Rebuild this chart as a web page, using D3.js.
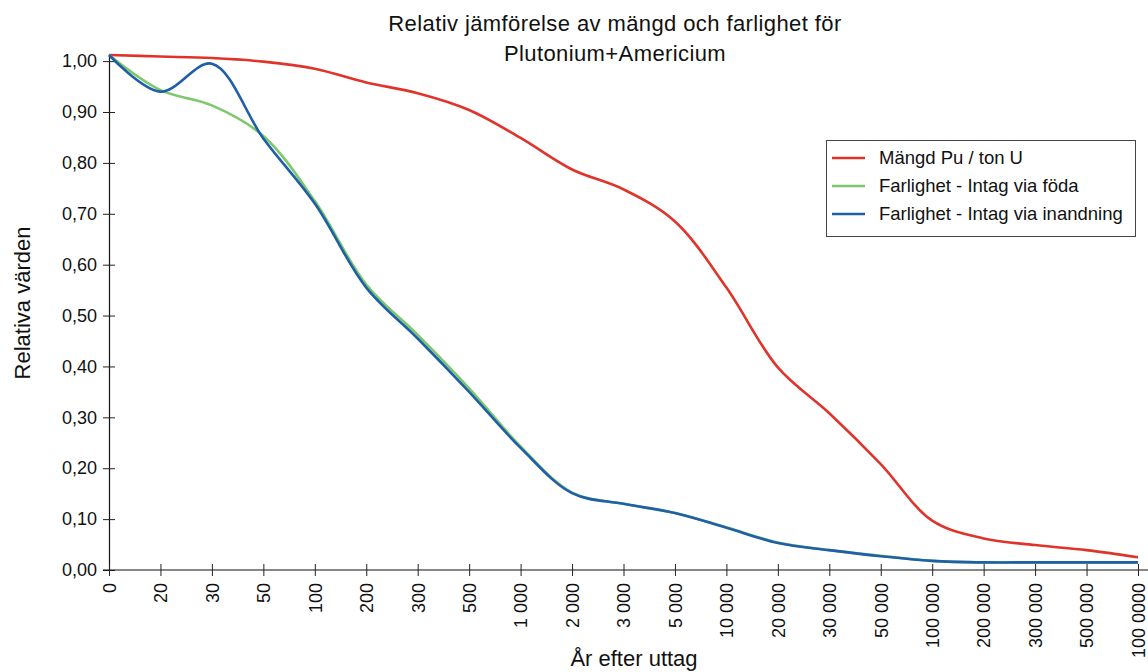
<!DOCTYPE html>
<html>
<head>
<meta charset="utf-8">
<script src="https://cdn.jsdelivr.net/npm/d3@7"></script>
<style>
  html, body { margin: 0; padding: 0; background: #fff; }
  svg { display: block; font-family: "Liberation Sans", Arial, Helvetica, sans-serif; }
</style>
</head>
<body>
<svg id="chart" width="1148" height="672"></svg>
<script>
// Years after removal (category labels on the x axis)
const years = ["0", "20", "30", "50", "100", "200", "300", "500", "1 000", "2 000", "3 000", "5 000",
  "10 000", "20 000", "30 000", "50 000", "100 000", "200 000", "300 000", "500 000", "100 0000"];

// Relative amount of Pu per tonne U
const amountPu = [1.012, 1.009, 1.006, 0.999, 0.985, 0.958, 0.937, 0.904, 0.849, 0.787, 0.748, 0.685,
  0.555, 0.398, 0.308, 0.208, 0.097, 0.062, 0.049, 0.039, 0.025];
// Relative hazard, ingestion
const hazardFood = [1.012, 0.943, 0.913, 0.853, 0.725, 0.561, 0.462, 0.357, 0.243, 0.152, 0.130, 0.112,
  0.084, 0.054, 0.039, 0.028, 0.018, 0.015, 0.015, 0.015, 0.015];
// Relative hazard, inhalation
const hazardAir = [1.012, 0.940, 0.995, 0.848, 0.720, 0.555, 0.455, 0.350, 0.240, 0.151, 0.130, 0.112,
  0.083, 0.053, 0.039, 0.027, 0.018, 0.015, 0.015, 0.015, 0.015];

const seriesNames = ["Mängd Pu / ton U", "Farlighet - Intag via föda", "Farlighet - Intag via inandning"];
const yTicks = [0, 0.1, 0.2, 0.3, 0.4, 0.5, 0.6, 0.7, 0.8, 0.9, 1.0];

const colors = ["#e0342b", "#7dc86c", "#1e5fa8"];
const series = [amountPu, hazardFood, hazardAir];

const svg = d3.select("#chart");
const plotLeft = 109, plotRight = 1138, plotTop = 54, plotBottom = 570;

const x = d3.scalePoint().domain(years).range([plotLeft, plotRight]);
const y = d3.scaleLinear().domain([0, 1.014]).range([plotBottom, plotTop]);
const fmt = v => d3.format(".2f")(v).replace(".", ",");

// Title
const title = svg.append("text")
  .attr("x", 615).attr("text-anchor", "middle")
  .attr("font-size", 22).attr("letter-spacing", 0.4).attr("fill", "#111");
title.append("tspan").attr("x", 615).attr("y", 31).text("Relativ jämförelse av mängd och farlighet för");
title.append("tspan").attr("x", 615).attr("y", 61).text("Plutonium+Americium");

// Y axis
const yAxis = svg.append("g").attr("transform", `translate(${plotLeft},0)`)
  .call(d3.axisLeft(y).tickValues(yTicks).tickFormat(fmt).tickSize(6).tickSizeOuter(0));
yAxis.select(".domain").attr("stroke", "#111").attr("stroke-width", 1.2);
yAxis.selectAll(".tick line").attr("x1", -6).attr("x2", 6).attr("stroke", "#222");
yAxis.selectAll(".tick text").attr("x", -12).attr("font-size", 18).attr("font-family", null).attr("fill", "#111");

// X axis
const xAxis = svg.append("g").attr("transform", `translate(0,${plotBottom})`)
  .call(d3.axisBottom(x).tickSize(6).tickSizeOuter(0));
xAxis.select(".domain").attr("d", `M${plotLeft - 6},0H1148`).attr("stroke", "#111").attr("stroke-width", 1.2);
xAxis.selectAll(".tick line").attr("y1", -6).attr("y2", 6).attr("stroke", "#222");
xAxis.selectAll(".tick text")
  .attr("font-size", 18).attr("font-family", null).attr("fill", "#111")
  .attr("text-anchor", "end")
  .attr("transform", "rotate(-90)")
  .attr("x", -13).attr("y", 0).attr("dy", "0.35em");

// Axis titles
svg.append("text").attr("x", 634).attr("y", 666).attr("text-anchor", "middle")
  .attr("font-size", 22).attr("fill", "#111").text("År efter uttag");
svg.append("text").attr("transform", "translate(30,303) rotate(-90)").attr("text-anchor", "middle")
  .attr("font-size", 22).attr("fill", "#111").text("Relativa värden");

// Series lines
const line = d3.line()
  .x((d, i) => x(years[i]))
  .y(d => y(d))
  .curve(d3.curveCatmullRom.alpha(0.5));

series.forEach((s, k) => {
  svg.append("path").datum(s)
    .attr("fill", "none")
    .attr("stroke", colors[k])
    .attr("stroke-width", 2.6)
    .attr("stroke-linejoin", "round")
    .attr("d", line);
});

// Legend
const lg = svg.append("g").attr("transform", "translate(826,140)");
lg.append("rect").attr("x", 0.5).attr("y", 0.5).attr("width", 309).attr("height", 96)
  .attr("fill", "#fff").attr("stroke", "#444").attr("stroke-width", 1);
seriesNames.forEach((name, k) => {
  const yy = 18 + k * 28;
  lg.append("line").attr("x1", 6).attr("x2", 39).attr("y1", yy).attr("y2", yy)
    .attr("stroke", colors[k]).attr("stroke-width", 2.6);
  lg.append("text").attr("x", 53).attr("y", yy).attr("dy", "0.35em")
    .attr("font-size", 18.5).attr("fill", "#111").text(name);
});
</script>
</body>
</html>
